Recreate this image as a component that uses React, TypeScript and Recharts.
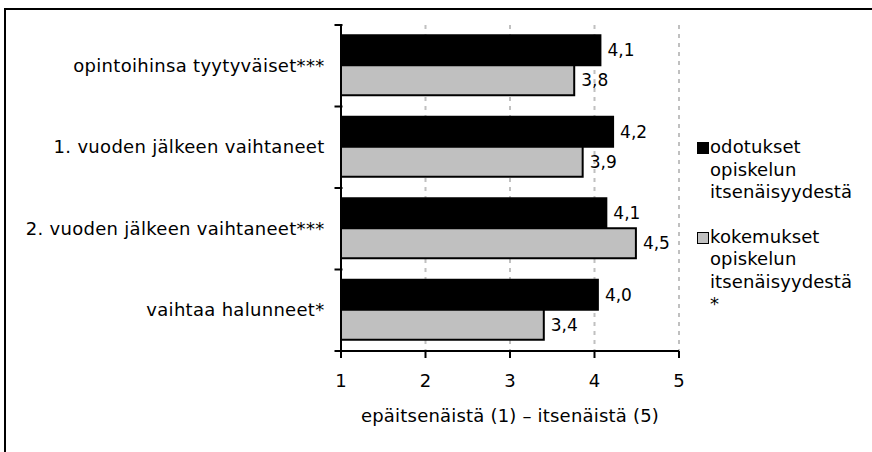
import React from "react";
import { BarChart, Bar, XAxis, YAxis, CartesianGrid, LabelList } from "recharts";

const categories = [
  "opintoihinsa tyytyväiset***",
  "1. vuoden jälkeen vaihtaneet",
  "2. vuoden jälkeen vaihtaneet***",
  "vaihtaa halunneet*",
];
const expectations = [4.07, 4.22, 4.14, 4.04];
const experiences = [3.76, 3.86, 4.49, 3.4];
const seriesNames = [
  ["odotukset", "opiskelun", "itsenäisyydestä"],
  ["kokemukset", "opiskelun", "itsenäisyydestä", "*"],
];
const xTicks = [1, 2, 3, 4, 5];
const xLabel = "epäitsenäistä (1) – itsenäistä (5)";

const data = categories.map((c, i) => ({
  name: c,
  odotukset: expectations[i],
  kokemukset: experiences[i],
}));

const FONT = "'DejaVu Sans', Verdana, sans-serif";
const fmt = (v: any) => Number(v).toFixed(1).replace(".", ",");

const YTick = (props: any) => {
  const { x, y, payload, index } = props;
  const half = payload.offset || 0;
  const ax = x + 9.5; // axis line position
  return (
    <g>
      <line x1={ax - 8} x2={ax} y1={y - half} y2={y - half} stroke="#000" strokeWidth={2} />
      {index === categories.length - 1 && (
        <line x1={ax - 8} x2={ax} y1={y + half} y2={y + half} stroke="#000" strokeWidth={2} />
      )}
      <text
        x={ax - 18}
        y={y}
        dy={6}
        textAnchor="end"
        fill="#000"
        fontSize={18}
        letterSpacing={0.3}
        fontFamily={FONT}
      >
        {payload.value}
      </text>
    </g>
  );
};

const colors = ["#000000", "#c0c0c0"];

export default function App() {
  return (
    <div style={{ position: "absolute", left: 0, top: 0, width: 872, height: 452, background: "#fff", overflow: "hidden" }}>
      <div
        style={{
          position: "absolute",
          left: 4,
          top: 8,
          width: 900,
          height: 500,
          borderTop: "2px solid #000",
          borderLeft: "2px solid #000",
        }}
      />
      <div style={{ position: "absolute", left: 0, top: 0 }}>
        <BarChart
          width={872}
          height={452}
          data={data}
          layout="vertical"
          margin={{ top: 25, right: 193, bottom: 71, left: 0 }}
          barCategoryGap="12.6%"
          barGap={0}
        >
          <CartesianGrid
            horizontal={false}
            vertical={true}
            stroke="#c0c0c0"
            strokeWidth={2}
            strokeDasharray="4 5"
          />
          <XAxis
            type="number"
            domain={[1, 5]}
            ticks={xTicks}
            allowDataOverflow
            axisLine={{ stroke: "#000", strokeWidth: 2 }}
            tickLine={{ stroke: "#000", strokeWidth: 2 }}
            tickSize={7}
            tickMargin={16}
            height={30}
            tick={{ fill: "#000", fontSize: 18, fontFamily: FONT }}
            label={{
              value: xLabel,
              position: "insideBottom",
              offset: -41,
              fill: "#000",
              fontSize: 18,
              letterSpacing: 0.2,
              fontFamily: FONT,
            }}
          />
          <YAxis
            type="category"
            dataKey="name"
            width={341}
            axisLine={{ stroke: "#000", strokeWidth: 2 }}
            tickLine={false}
            tick={<YTick />}
            interval={0}
          />
          <Bar dataKey="odotukset" fill={colors[0]} stroke="#000" strokeWidth={2} isAnimationActive={false}>
            <LabelList dataKey="odotukset" position="right" offset={7} formatter={fmt} fill="#000" fontSize={17} fontFamily={FONT} />
          </Bar>
          <Bar dataKey="kokemukset" fill={colors[1]} stroke="#000" strokeWidth={2} isAnimationActive={false}>
            <LabelList dataKey="kokemukset" position="right" offset={7} formatter={fmt} fill="#000" fontSize={17} fontFamily={FONT} />
          </Bar>
        </BarChart>
      </div>
      <div style={{ position: "absolute", left: 697, top: 136, fontFamily: FONT, fontSize: 18, lineHeight: "22.5px", letterSpacing: 0.1, color: "#000" }}>
        {seriesNames.map((lines, i) => (
          <div key={i} style={{ position: "relative", paddingLeft: 13, marginBottom: i === 0 ? 22 : 0 }}>
            <div
              style={{
                position: "absolute",
                left: 0,
                top: 6,
                width: 10,
                height: 10,
                background: colors[i],
                border: "1.5px solid #000",
              }}
            />
            {lines.map((l, j) => (
              <div key={j}>{l}</div>
            ))}
          </div>
        ))}
      </div>
    </div>
  );
}
